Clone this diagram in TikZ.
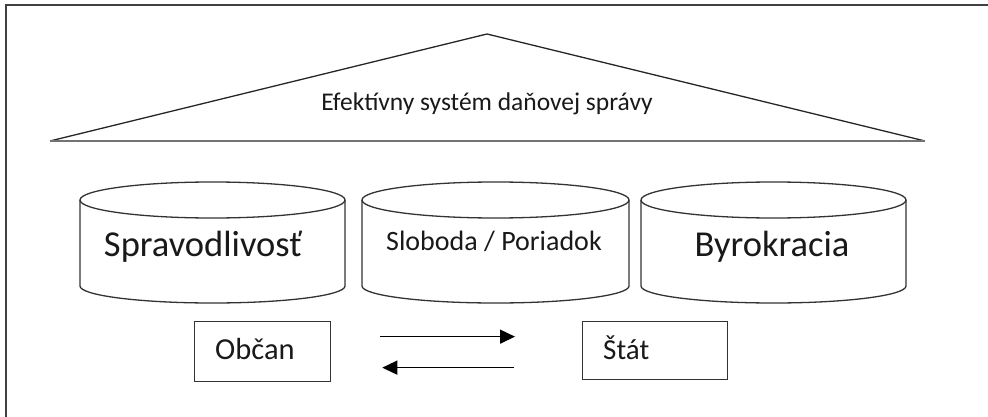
\documentclass[tikz,border=0pt]{standalone}
\usepackage{fontspec}
\setmainfont{Carlito}
\usetikzlibrary{arrows.meta}
\tikzset{
  frameline/.style={draw=black!75, line width=2pt},
  roofline/.style={draw=black!85, line width=1.3pt, line join=round},
  roofbase/.style={draw=black!55, line width=2.2pt},
  cyl/.style={draw=black!80, line width=1.3pt},
  boxnode/.style={draw=black!80, line width=1.3pt, anchor=north west, inner sep=0pt},
  txt/.style={inner sep=0pt, text=black!90},
  arr/.style={draw=black, line width=1.5pt, -{Triangle[length=15pt,width=14pt]}},
}
\newcommand{\fsz}[1]{\fontsize{#1}{#1}\selectfont}
\begin{document}
\begin{tikzpicture}[x=1pt,y=-1pt]
\useasboundingbox (0,0) rectangle (988,417);
% frame (top and left edges only)
\coordinate (ftl) at (5.5,5.5);
\coordinate (ftr) at (988,5.5);
\coordinate (fbl) at (5.5,417);
\draw[frameline] (ftr) -- (ftl) -- (fbl);
% roof
\coordinate (rl) at (50,141);
\coordinate (ra) at (487,34);
\coordinate (rr) at (925,141);
\draw[roofline] (rl) -- (ra) -- (rr);
\draw[roofbase] (rl) -- (rr);
\node[txt, font=\fsz{25.5}] (title) at (487,104) {Efektívny systém daňovej správy};
% cylinders
\foreach \xl/\xr in {80/345, 362/629, 641/906}{
  \pgfmathsetmacro{\cx}{(\xl+\xr)/2}
  \pgfmathsetmacro{\rx}{(\xr-\xl)/2}
  \draw[cyl] (\cx,200) ellipse [x radius=\rx pt, y radius=18pt];
  \draw[cyl] (\xl,200) -- (\xl,286) arc[start angle=180, end angle=360, x radius=\rx pt, y radius=17pt] -- (\xr,200);
}
\node[txt, font=\fsz{36.5}] (c1) at (203,247) {Spravodlivosť};
\node[txt, font=\fsz{28}] (c2) at (494,241) {Sloboda / Poriadok};
\node[txt, font=\fsz{36.5}] (c3) at (772,247) {Byrokracia};
% boxes
\node[boxnode, minimum width=136pt, minimum height=60pt] (obcan) at (194,321) {};
\node[txt, font=\fsz{30.5}, anchor=west] (obcant) at (215,349) {Občan};
\node[boxnode, minimum width=145pt, minimum height=58pt] (stat) at (582,321) {};
\node[txt, font=\fsz{29}, anchor=west] (statt) at (603,348) {Štát};
% arrows
\draw[arr] ([xshift=49pt,yshift=15pt]obcan.east) -- ([xshift=-67pt,yshift=14pt]stat.west);
\draw[arr] ([xshift=-68pt,yshift=-17pt]stat.west) -- ([xshift=51pt,yshift=-16pt]obcan.east);
\end{tikzpicture}
\end{document}
